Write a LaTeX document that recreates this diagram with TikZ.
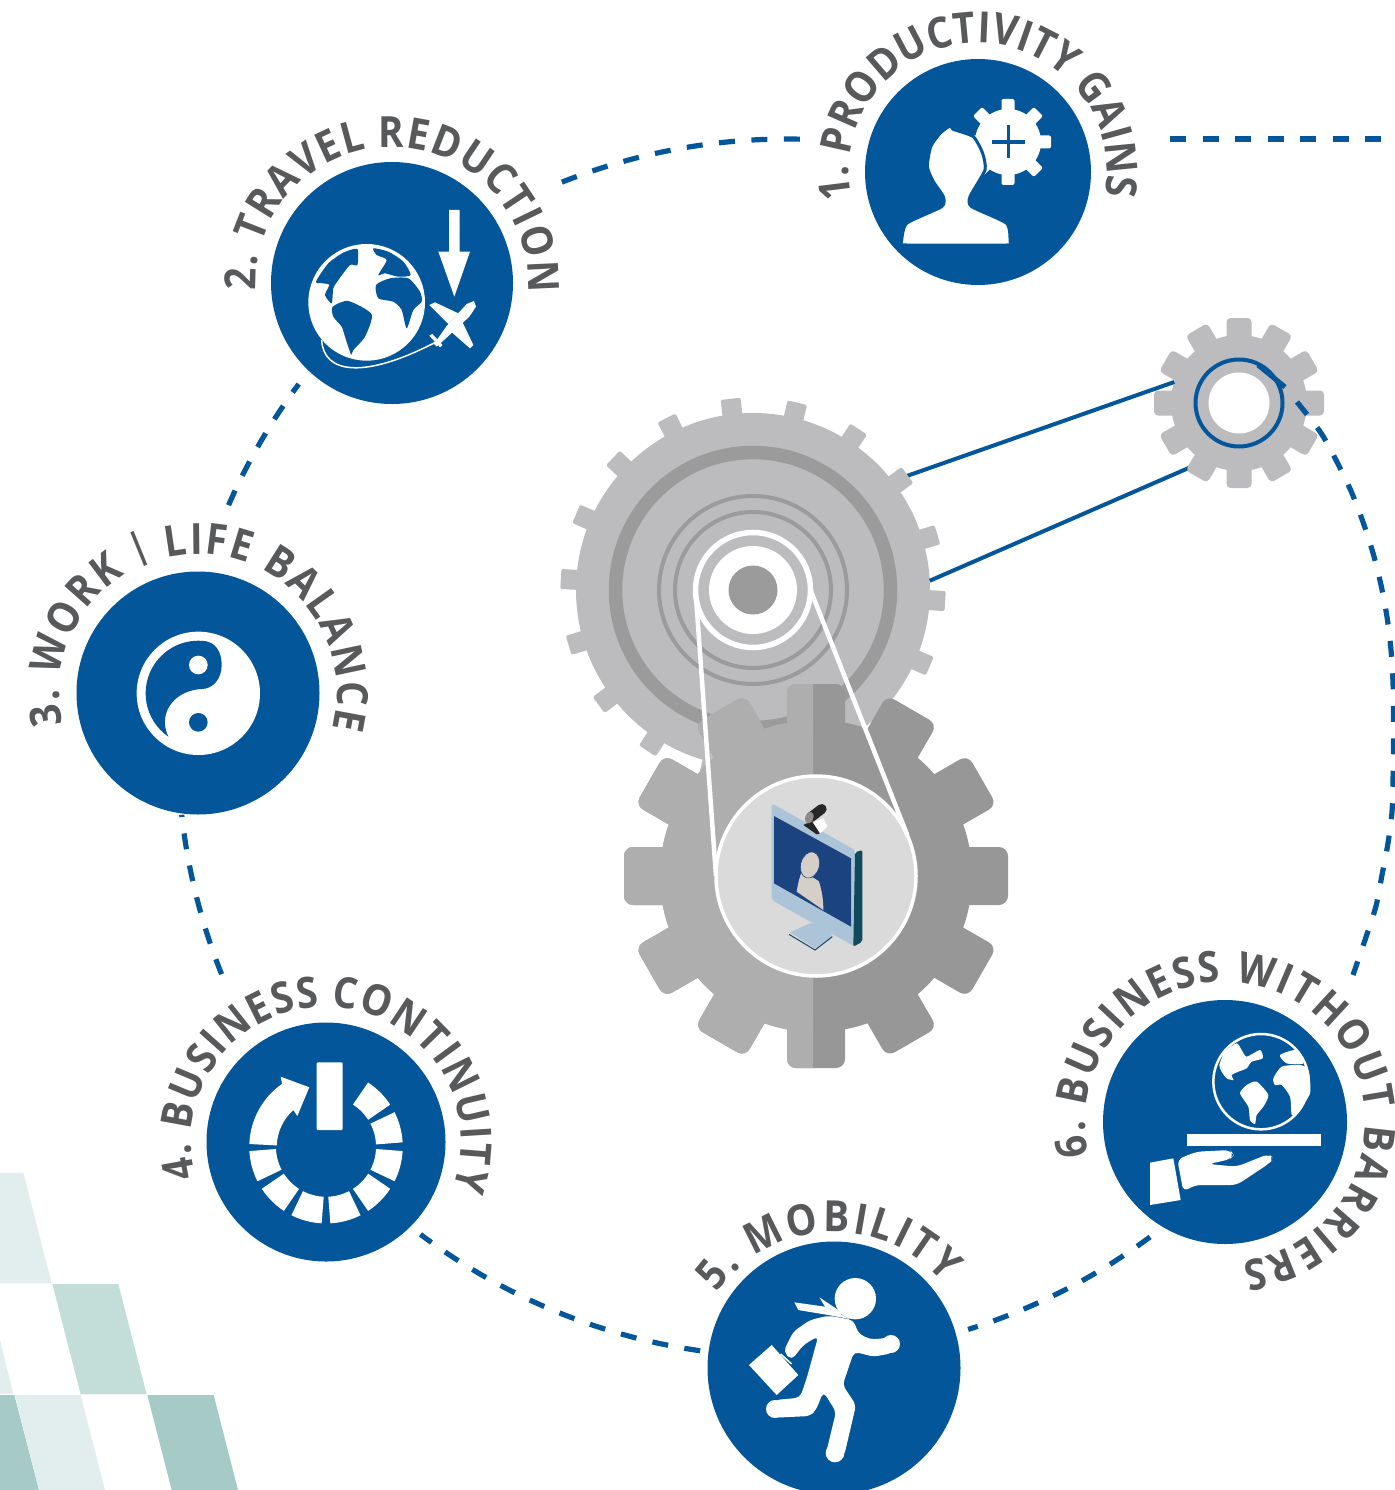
\documentclass[tikz,border=0pt]{standalone}
\usepackage{fontspec}
\setmainfont{Open Sans}
\newfontfamily\ringface{Open Sans}[FakeStretch=0.9]
\usepackage{graphicx}
\usetikzlibrary{calc, decorations.text}

\definecolor{ringblue}{HTML}{03569A}
\definecolor{labelgray}{HTML}{58595B}
\definecolor{gearlight}{HTML}{BCBCBE}
\definecolor{gearring}{HTML}{9B9B9C}
\definecolor{cogleft}{HTML}{AEAEAE}
\definecolor{cogright}{HTML}{979797}
\definecolor{lensgray}{HTML}{DADADA}
\definecolor{screenblue}{HTML}{1B4380}
\definecolor{bezelblue}{HTML}{ACC4D7}
\definecolor{bezeldark}{HTML}{104A5C}
\definecolor{skintone}{HTML}{D6CEC9}
\definecolor{tilepale}{HTML}{E1EEED}
\definecolor{tilemid}{HTML}{C3DDD9}
\definecolor{tiledark}{HTML}{A6CBC7}

\newcommand{\ringfont}{\fontsize{43}{43}\selectfont\ringface\bfseries}
\newcommand{\slimbar}{\raisebox{7pt}{\fontsize{37}{37}\selectfont\bfseries|}}

% centre, teeth, offset, inner, outer, tooth width, corner, colour
\newcommand{\gearteeth}[8]{
    \foreach \k in {1,...,#2}{
        \pgfmathsetmacro{\toothangle}{#3+360*\k/#2}
        \fill[#8, rounded corners=#7, shift={(#1)}, rotate=-\toothangle] (#4,-#6/2) rectangle (#5,#6/2);
    }
}
% centre, radius, start angle, end angle, text
\newcommand{\ringlabel}[5]{
    \path[decorate, decoration={text along path, text align=fit to path, text color=labelgray,
        text format delimiters={[}{]}, text={[\ringfont]#5}}]
        (#1) ++(#3:#2) arc[start angle=#3, end angle=#4, radius=#2];
}

\tikzset{
    badge/.style={circle, fill=ringblue, inner sep=0, outer sep=0},
    disc/.style={circle, inner sep=0, outer sep=0},
    ringdash/.style={ringblue, line width=5.2, dash pattern=on 16pt off 16.5pt},
    shaftline/.style={ringblue, line width=4},
    beltline/.style={white, line width=4.5}
}

\begin{document}
\begin{tikzpicture}[x=1pt, y=-1pt]
    \useasboundingbox (0,0) rectangle (1394,1490);

    % tiles in the corner
    \begin{scope}[shift={(0,1150)}, scale=1/3]
        \fill[tilepale] (0,68) -- (70,68) -- (155,400) -- (0,400) -- cycle;
        \fill[tilepale] (0,570) -- (40,732) -- (0,732) -- cycle;
        \fill[tilemid] (157,402) -- (355,402) -- (440,733) -- (242,733) -- cycle;
        \fill[tiledark] (0,735) -- (43,735) -- (117,1020) -- (0,1020) -- cycle;
        \fill[tilepale] (45,735) -- (242,735) -- (315,1020) -- (117,1020) -- cycle;
        \fill[tiledark] (442,735) -- (641,735) -- (714,1020) -- (515,1020) -- cycle;
    \end{scope}

    % big gear
    \node[disc, fill=gearlight, minimum size=354] (gearbig) at (753,590) {};
    \node[disc, fill=gearlight, minimum size=136] (gearsmall) at (1239,403) {};
    \draw[shaftline] (gearbig.38.5) -- (gearsmall.162);
    \draw[shaftline] (gearbig.3.9) -- (gearsmall.239);
    \gearteeth{gearbig}{18}{3.3}{165}{192.5}{20}{2}{gearlight}
    \node[disc, draw=gearring, line width=13.5, minimum size=275] (ringouter) at (gearbig) {};
    \node[disc, draw=gearring, line width=4, minimum size=188] (ringa) at (gearbig) {};
    \node[disc, draw=gearring, line width=4, minimum size=156] (ringb) at (gearbig) {};
    \node[disc, draw=white, line width=5.5, minimum size=115] (hubring) at (gearbig) {};
    \node[disc, fill=white, minimum size=88] (hubwhite) at (gearbig) {};
    \node[disc, fill=gearring, minimum size=49] (hubcore) at (gearbig) {};

    % small gear
    \gearteeth{gearsmall}{12}{0}{60}{85}{25}{4}{gearlight}
    \node[disc, fill=white, minimum size=61] (hole) at (gearsmall) {};
    \node[disc, draw=ringblue, line width=4, minimum size=87] (holering) at (gearsmall) {};
    \coordinate (tailstart) at (1258,365);
    \coordinate (tailend) at (1285,387);
    \draw[ringblue, line width=5] (tailstart) -- (tailend);

    % dashed ring
    \coordinate (ringc) at (787,748);
    \foreach \a/\b in {248.3/271.9, 203.5/216.7, 158.2/173.7, 98.2/127, 53.4/72.7}
        \draw[ringdash] (ringc) ++(\a:609) arc[start angle=\a, end angle=\b, radius=609];
    \draw[ringdash] plot[smooth] coordinates {(1297,402) (1321,433) (1337,462) (1351,491) (1363,522) (1373,553) (1381,585) (1387,617) (1391,650) (1393,683) (1393.5,717) (1393.5,748) (1393,780) (1392,812) (1388,843) (1382,875) (1376,906) (1366,937) (1353,975)};
    \coordinate (dashstart) at (1170,139);
    \coordinate (dashend) at (1394,139);
    \draw[ringdash] (dashstart) -- (dashend);

    % lower gear
    \gearteeth{816,876}{12}{0}{140}{192}{58}{9}{cogright}
    \node[disc, fill=cogright, minimum size=312] (gearlow) at (816,876) {};
    \begin{scope}
        \clip (600,660) rectangle (813,1090);
        \gearteeth{gearlow}{12}{0}{140}{192}{58}{9}{cogleft}
        \fill[cogleft] (gearlow) circle[radius=156];
    \end{scope}

    % lens
    \node[disc, fill=lensgray, draw=white, line width=3.5, minimum size=200] (lens) at (816,876) {};
    \draw[beltline] (hubring.180) -- (lens.180);
    \draw[beltline] (hubring.0) -- (lens.24);

    % monitor
    \begin{scope}[shift={(770,795)}, scale=1/3]
        \fill[bezelblue] (120,385) -- (60,412) -- (135,460) -- (187,425) -- (170,385) -- cycle;
        \draw[bezeldark, line width=1] (57,418) -- (135,465) -- (187,425);
        \fill[bezelblue, rounded corners=3] (5,25) -- (255,165) -- (255,455) -- (5,315) -- cycle;
        \fill[bezeldark, rounded corners=2] (255,172) -- (277,165) -- (277,440) -- (250,455) -- cycle;
        \fill[screenblue] (12,63) -- (243,190) -- (243,395) -- (12,265) -- cycle;
        \fill[skintone] (80,290) .. controls (85,260) and (90,240) .. (97,228) .. controls (130,255) and (150,250) .. (150,270) .. controls (158,300) and (160,320) .. (160,345) -- cycle;
        \fill[skintone, draw=screenblue, line width=0.6, rotate around={-15:(120,210)}] (120,210) ellipse[x radius=28, y radius=40];
        \fill[black!85] (100,90) -- (125,78) -- (150,115) -- (140,118) -- cycle;
        \fill[white] (130,82) -- (160,70) -- (172,95) -- (150,115) -- cycle;
        \draw[black!85, line width=10, line cap=round] (122,67) -- (155,42);
        \fill[black!45, rotate around={-20:(118,68)}] (118,68) ellipse[x radius=12, y radius=18];
    \end{scope}

    % badges
    \node[badge, minimum size=226] (prod) at (978,172) {};
    \node[badge, minimum size=242] (travel) at (392,283) {};
    \node[badge, minimum size=243] (work) at (198,693) {};
    \node[badge, minimum size=239] (contin) at (326,1142) {};
    \node[badge, minimum size=253] (mobil) at (834,1368) {};
    \node[badge, minimum size=244] (barrier) at (1225,1122) {};

    \ringlabel{prod}{129}{168}{369.5}{1. PRODUCTIVITY GAINS}
    \ringlabel{travel}{136}{177}{364}{2. TRAVEL REDUCTION}
    \ringlabel{work}{139}{167}{375}{3. WORK {\slimbar} LIFE BALANCE}
    \ringlabel{contin}{135}{165}{380}{4. BUSINESS CONTINUITY}
    \ringlabel{834,1375}{143}{215}{320}{5. MOBILITY}
    \ringlabel{barrier}{140}{166}{443}{6. BUSINESS WITHOUT BARRIERS}

    % person with gear
    \gearteeth{1008,142}{8}{0}{25}{43}{13}{2}{white}
    \fill[white] (1008,142) circle[radius=33];
    \draw[ringblue, line width=3.5] (992,142) -- (1025,142);
    \draw[ringblue, line width=3.5] (1008.5,125) -- (1008.5,158);
    \begin{scope}[shift={(800,0)}, scale=1/3]
        \filldraw[fill=white, draw=ringblue, line width=3] plot[smooth cycle, tension=0.35] coordinates {(305,725) (320,670) (425,620) (430,590) (400,545) (382,500) (392,440) (420,400) (450,378) (460,388) (520,410) (548,460) (555,510) (510,590) (515,620) (620,670) (630,725) (620,735) (320,735)};
    \end{scope}

    % globe, arrow and plane
    \begin{scope}[shift={(270,170)}, scale=1/3]
        \fill[white] (290,397) circle[radius=175];
        \fill[ringblue] plot[smooth cycle, tension=0.4] coordinates {(262,237) (262,285) (240,285) (205,330) (190,355) (185,400) (165,375) (178,345) (160,340) (138,335) (175,280) (220,248)};
        \fill[ringblue] plot[smooth cycle, tension=0.4] coordinates {(188,410) (235,393) (305,433) (285,500) (250,540) (243,553) (225,500) (215,470) (190,440)};
        \fill[ringblue] plot[smooth cycle, tension=0.4] coordinates {(318,345) (360,325) (415,325) (450,365) (455,395) (430,420) (410,475) (395,420) (370,395) (325,385)};
        \fill[ringblue] plot[smooth cycle, tension=0.4] coordinates {(310,235) (355,245) (400,275) (422,315) (385,320) (345,310) (325,315) (350,270) (320,255)};
        \draw[white, line width=1.5] (155,510) .. controls (160,610) and (280,630) .. (500,515);
        \fill[white] (537,120) -- (569,120) -- (569,245) -- (600,245) -- (553,380) -- (505,245) -- (537,245) -- cycle;
        \fill[white] (492,522) -- (530,468) -- (590,402) -- (612,393) -- (618,410) -- (598,440) -- (555,480) -- (500,530) -- cycle;
        \fill[white] (478,405) -- (495,397) -- (565,430) -- (535,462) -- cycle;
        \fill[white] (610,525) -- (600,535) -- (535,478) -- (572,445) -- cycle;
        \fill[white] (478,497) -- (487,492) -- (518,525) -- (510,532) -- cycle;
    \end{scope}

    % yin yang
    \begin{scope}[shift={(120,615)}, scale=1/3]
        \fill[white] (235,235) circle[radius=185];
        \fill[ringblue] (145,365) arc[start angle=124.7, end angle=273.7, radius=158] .. controls (290,78) and (305,115) .. (305,150) .. controls (305,190) and (280,222) .. (245,222) .. controls (180,225) and (130,270) .. (135,330) .. controls (137,345) and (140,355) .. cycle;
        \fill[white] (235,150) circle[radius=28];
        \fill[ringblue] (235,322) circle[radius=28];
    \end{scope}

    % power sign
    \coordinate (powerc) at (326,1146.7);
    \foreach \a in {-60,-30,...,150}
        \draw[white, line width=26.7] (powerc) ++(\a+3:63.4) arc[start angle=\a+3, end angle=\a+27, radius=63.4];
    \fill[white] (powerc) ++(182:76.7) arc[start angle=182, end angle=235, radius=76.7] -- (280.7,1076.7) -- (309.3,1087.3) -- (297.3,1116) -- (293.3,1110) arc[start angle=228, end angle=182, radius=50] -- cycle;
    \fill[white, rounded corners=1] (316.7,1062.3) rectangle (342.7,1130);

    % runner
    \begin{scope}[shift={(710,1250)}, scale=1/3]
        \fill[white] (436,146) circle[radius=62];
        \fill[white] (253,157) -- (265,180) -- (355,195) -- (420,207) -- (345,170) -- cycle;
        \fill[white] (328,142) -- (345,170) -- (390,195) -- (400,190) -- cycle;
        \fill[white] (117,345) -- (185,285) -- (265,375) -- (200,435) -- cycle;
        \draw[white, line width=1.5] (212,312) -- (245,342);
        \fill[white, rounded corners=5] (430,210) -- (445,250) -- (480,268) -- (525,265) -- (550,255) -- (570,280) -- (545,310) -- (490,320) -- (432,305) -- (398,405) -- (438,465) -- (403,615) -- (375,637) -- (348,610) -- (378,485) -- (340,425) -- (318,480) -- (300,498) -- (195,503) -- (168,478) -- (195,450) -- (270,443) -- (290,385) -- (325,258) -- (280,285) -- (245,330) -- (220,305) -- (250,245) -- (300,210) -- (355,197) -- cycle;
        \fill[white] (543,282) circle[radius=27];
        \fill[white] (195,477) circle[radius=27];
        \fill[white] (375,609) circle[radius=28];
    \end{scope}

    % hand and globe
    \begin{scope}[shift={(1100,1000)}, scale=1/3]
        \draw[white, line width=2.5] (483,245) circle[radius=143];
        \fill[white] plot[smooth cycle, tension=0.4] coordinates {(358,195) (375,155) (410,130) (425,150) (440,170) (480,150) (488,175) (455,185) (440,205) (415,215) (395,225) (400,240) (380,235) (365,215)};
        \fill[white] plot[smooth cycle, tension=0.4] coordinates {(420,280) (440,255) (470,245) (505,285) (490,320) (470,345) (465,372) (450,360) (445,320)};
        \fill[white] plot[smooth cycle, tension=0.4] coordinates {(520,235) (545,200) (600,195) (625,210) (630,280) (590,340) (575,345) (570,290) (545,255) (525,255)};
        \fill[white] plot[smooth cycle, tension=0.4] coordinates {(540,165) (590,150) (610,190) (560,190)};
        \fill[white] (262,402) rectangle (662,437);
        \fill[white] (150,488) -- (220,475) -- (242,600) -- (150,615) -- cycle;
        \fill[white, rounded corners=6] (232,478) -- (290,455) -- (390,450) -- (402,465) -- (390,478) -- (325,492) -- (410,500) -- (505,462) -- (522,475) -- (505,492) -- (410,555) -- (285,555) -- (250,575) -- cycle;
    \end{scope}
\end{tikzpicture}
\end{document}
